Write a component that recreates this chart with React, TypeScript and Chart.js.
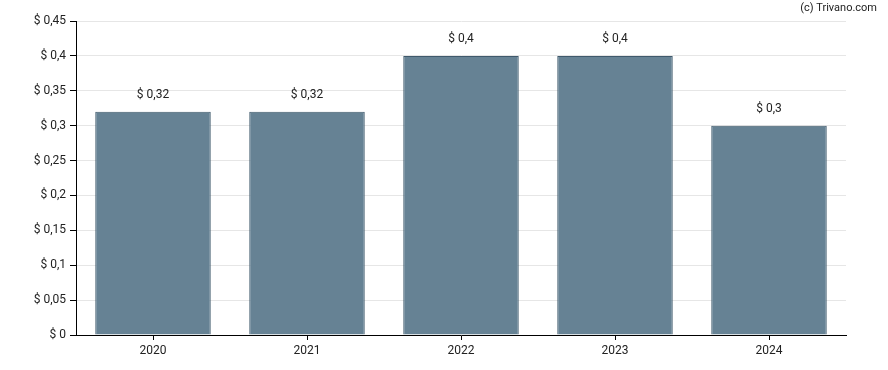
import React, { useEffect, useRef } from "react";
import { Chart, registerables } from "chart.js";

Chart.register(...registerables);

const years = ["2020", "2021", "2022", "2023", "2024"];
const dividends = [0.32, 0.32, 0.4, 0.4, 0.3];
const yMax = 0.45;
const yStep = 0.05;
const credit = "(c) Trivano.com";

const fmt = (v: number) => "$ " + String(Number(v.toFixed(2))).replace(".", ",");

const FONT = "Roboto, Arial, sans-serif";

const labelPlugin = {
  id: "barLabels",
  afterDatasetsDraw(chart: any) {
    const ctx = chart.ctx;
    const meta = chart.getDatasetMeta(0);
    ctx.save();
    ctx.font = "12px " + FONT;
    ctx.fillStyle = "#222";
    ctx.textAlign = "center";
    ctx.textBaseline = "bottom";
    meta.data.forEach((bar: any, i: number) => {
      ctx.fillText(fmt(dividends[i]), bar.x, bar.y - 11);
    });
    ctx.textAlign = "right";
    ctx.textBaseline = "middle";
    ctx.font = "11px " + FONT;
    ctx.fillText(credit, 877, 8);
    ctx.restore();
  },
};

export default function App() {
  const ref = useRef<HTMLCanvasElement>(null);
  useEffect(() => {
    document.body.style.margin = "0";
    const chart = new Chart(ref.current!, {
      type: "bar",
      data: {
        labels: years,
        datasets: [
          {
            data: dividends,
            backgroundColor: "#668294",
            borderColor: "#3f596c",
            borderWidth: 1,
            categoryPercentage: 0.75,
            barPercentage: 1,
          },
        ],
      },
      options: {
        animation: false,
        responsive: false,
        maintainAspectRatio: false,
        layout: { padding: { left: 0, right: 42, top: 21, bottom: 0 } },
        plugins: { legend: { display: false }, tooltip: { enabled: false } },
        scales: {
          x: {
            grid: {
              display: true,
              drawOnChartArea: false,
              offset: false,
              tickColor: "#000",
              tickLength: 5,
            },
            border: { color: "#000", width: 1 },
            ticks: { color: "#222", font: { family: FONT, size: 12 }, padding: 4 },
            afterFit: (s: any) => {
              s.height = 35;
            },
          },
          y: {
            min: 0,
            max: yMax,
            ticks: {
              stepSize: yStep,
              color: "#222",
              font: { family: FONT, size: 12 },
              padding: 4,
              callback: (v: any) => fmt(Number(v)),
            },
            grid: { color: "#e6e6e6", tickColor: "#000", tickLength: 6 },
            border: { color: "#000", width: 1 },
            afterFit: (s: any) => {
              s.width = 76;
            },
          },
        },
      },
      plugins: [labelPlugin],
    });
    return () => chart.destroy();
  }, []);
  return (
    <div style={{ width: 888, height: 370 }}>
      <canvas ref={ref} width={888} height={370} style={{ display: "block" }} />
    </div>
  );
}
